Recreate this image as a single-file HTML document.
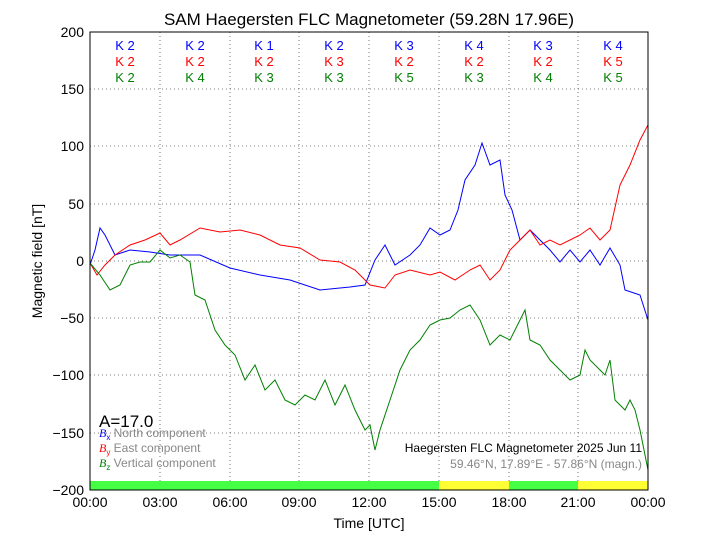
<!DOCTYPE html>
<html><head><style>body{margin:0;background:#fff}svg{display:block}text{font-family:"Liberation Sans",sans-serif}</style></head><body>
<svg width="720" height="540" xmlns="http://www.w3.org/2000/svg">
<rect width="720" height="540" fill="#fff"/>
<text x="369" y="25" font-size="17" text-anchor="middle">SAM Haegersten FLC Magnetometer (59.28N 17.96E)</text>
<g stroke="#555" stroke-dasharray="1,3" stroke-width="0.8">
<line x1="160" y1="32" x2="160" y2="481"/><line x1="230" y1="32" x2="230" y2="481"/><line x1="299" y1="32" x2="299" y2="481"/><line x1="369" y1="32" x2="369" y2="481"/><line x1="439" y1="32" x2="439" y2="481"/><line x1="509" y1="32" x2="509" y2="481"/><line x1="578" y1="32" x2="578" y2="481"/>
<line x1="90" y1="89" x2="648" y2="89"/><line x1="90" y1="146" x2="648" y2="146"/><line x1="90" y1="204" x2="648" y2="204"/><line x1="90" y1="261" x2="648" y2="261"/><line x1="90" y1="318" x2="648" y2="318"/><line x1="90" y1="375" x2="648" y2="375"/><line x1="90" y1="433" x2="648" y2="433"/>
</g>
<rect x="90" y="481" width="349" height="9" fill="#44ff44"/><rect x="439" y="481" width="70" height="9" fill="#ffff33"/><rect x="509" y="481" width="69" height="9" fill="#44ff44"/><rect x="578" y="481" width="70" height="9" fill="#ffff33"/>
<g font-size="13" text-anchor="middle">
<g fill="#0000ff"><text x="125" y="50">K 2</text><text x="195" y="50">K 2</text><text x="264" y="50">K 1</text><text x="334" y="50">K 2</text><text x="404" y="50">K 3</text><text x="474" y="50">K 4</text><text x="543" y="50">K 3</text><text x="613" y="50">K 4</text></g>
<g fill="#ff0000"><text x="125" y="66">K 2</text><text x="195" y="66">K 2</text><text x="264" y="66">K 2</text><text x="334" y="66">K 3</text><text x="404" y="66">K 2</text><text x="474" y="66">K 2</text><text x="543" y="66">K 2</text><text x="613" y="66">K 5</text></g>
<g fill="#008000"><text x="125" y="82">K 2</text><text x="195" y="82">K 4</text><text x="264" y="82">K 3</text><text x="334" y="82">K 3</text><text x="404" y="82">K 5</text><text x="474" y="82">K 3</text><text x="543" y="82">K 4</text><text x="613" y="82">K 5</text></g>
</g>
<g fill="none" stroke-width="1">
<polyline stroke="#0000ff" points="90,265 95,250 100,228 105,235 115,255 130,250 150,252 170,255 200,255 230,268 260,275 290,280 320,290 350,287 365,285 375,260 385,245 395,265 410,255 420,245 430,228 440,235 450,230 458,210 465,180 475,165 482,143 490,165 500,160 505,195 512,210 520,240 530,230 540,240 550,250 560,262 570,250 580,262 590,250 600,265 610,248 620,265 625,290 640,295 648,320"/>
<polyline stroke="#ff0000" points="90,263 97,275 105,265 115,255 130,245 145,240 160,233 170,245 180,240 200,228 220,232 240,230 260,235 280,245 300,248 320,260 340,262 355,270 370,285 385,288 395,275 410,270 430,275 440,272 455,280 470,270 480,265 490,280 500,270 510,250 520,240 530,230 540,245 550,240 560,245 570,240 580,235 590,228 600,240 610,230 620,185 630,165 640,140 648,125"/>
<polyline stroke="#008000" points="90,263 100,275 110,290 120,285 130,265 140,262 150,262 160,250 170,258 180,255 190,262 195,295 205,300 215,330 225,345 235,355 245,380 255,365 265,390 275,380 285,400 295,405 305,395 315,400 325,380 335,405 345,385 355,410 365,430 370,425 375,450 380,430 390,400 400,370 410,350 420,340 430,325 440,320 450,318 460,310 470,305 480,320 490,345 500,335 510,340 520,320 525,310 530,340 540,345 550,360 560,370 570,380 580,375 585,350 590,360 600,370 605,375 610,360 615,400 625,410 630,400 635,410 640,430 648,470"/>
</g>
<rect x="90" y="32" width="558" height="458" fill="none" stroke="#000" stroke-width="1"/>
<g font-size="14" text-anchor="end">
<text x="84" y="37">200</text><text x="84" y="94">150</text><text x="84" y="151">100</text><text x="84" y="209">50</text><text x="84" y="266">0</text><text x="84" y="323">−50</text><text x="84" y="380">−100</text><text x="84" y="438">−150</text><text x="84" y="495">−200</text>
</g>
<g font-size="14" text-anchor="middle">
<text x="90" y="507">00:00</text><text x="160" y="507">03:00</text><text x="230" y="507">06:00</text><text x="299" y="507">09:00</text><text x="369" y="507">12:00</text><text x="439" y="507">15:00</text><text x="509" y="507">18:00</text><text x="578" y="507">21:00</text><text x="648" y="507">00:00</text>
<text x="369" y="528">Time [UTC]</text>
</g>
<text transform="translate(42,261) rotate(-90)" font-size="14" text-anchor="middle">Magnetic field [nT]</text>
<text x="99" y="427" font-size="17">A=17.0</text>
<g font-size="12" fill="#888">
<text x="99" y="437"><tspan fill="#0000ff" font-style="italic" font-family="Liberation Serif">B</tspan><tspan fill="#0000ff" font-size="8" dy="3">x</tspan><tspan dy="-3"> North component</tspan></text>
<text x="99" y="452"><tspan fill="#ff0000" font-style="italic" font-family="Liberation Serif">B</tspan><tspan fill="#ff0000" font-size="8" dy="3">y</tspan><tspan dy="-3"> East component</tspan></text>
<text x="99" y="467"><tspan fill="#008000" font-style="italic" font-family="Liberation Serif">B</tspan><tspan fill="#008000" font-size="8" dy="3">z</tspan><tspan dy="-3"> Vertical component</tspan></text>
</g>
<text x="642" y="452" font-size="12" text-anchor="end">Haegersten FLC Magnetometer 2025 Jun 11</text>
<text x="642" y="468" font-size="12" text-anchor="end" fill="#888">59.46°N, 17.89°E - 57.86°N (magn.)</text>
</svg>
</body></html>
